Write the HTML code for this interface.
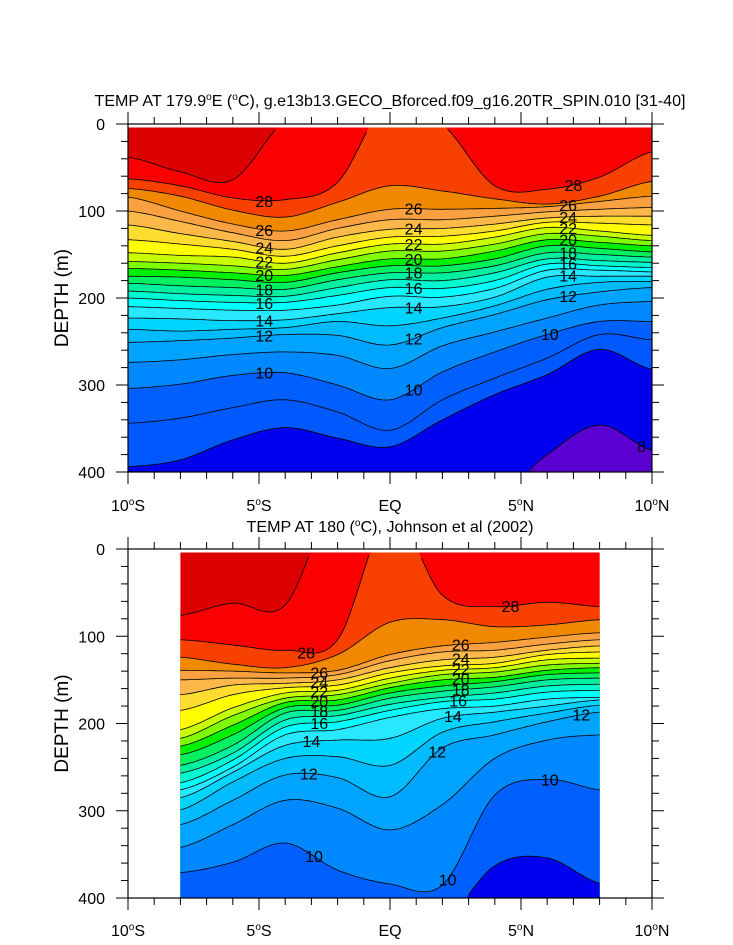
<!DOCTYPE html>
<html><head><meta charset="utf-8"><style>
html,body{margin:0;padding:0;background:#fff;}
svg{display:block;font-family:"Liberation Sans",sans-serif;}
</style></head><body>
<svg id="chart" width="733" height="945" viewBox="0 0 733 945" xmlns="http://www.w3.org/2000/svg">
<g id="top"></g>
<g id="bot"></g>
</svg>
<script>
// ---- data: isotherm depths (m) at grid latitudes (negative = isotherm outcrops above surface) ----
const topLats = [-10,-8,-6,-4,-2,0,2,4,6,8,10];
const topLevels = [29,28,27,26,25,24,23,22,21,20,19,18,17,16,15,14,13,12,11,10,9.5,9,8];
const topDepths = {
 "29":[38,55,64,-5,-30,-30,-30,-30,-30,-30,-30],
 "28":[63,71,85,87,67,-30,0,71,75,61,32],
 "27":[74,83,99,107,90,71,77,86,92,83,66],
 "26":[84,100,115,123,110,98,98,97,95,89,83],
 "25":[100,112,125,134,120,110,110,106,101,98,96],
 "24":[116,126,135,144,130,121,120,115,108,106,106],
 "23":[133,138,144,152,140,130,129,123,113,114,116],
 "22":[148,151,153,160,148,138,138,130,119,123,128],
 "21":[158,160,163,167,156,146,146,138,126,129,134],
 "20":[166,168,171,174,164,155,155,146,133,136,140],
 "19":[175,176,179,182,171,163,163,155,140,143,147],
 "18":[183,186,188,190,179,171,171,163,148,150,153],
 "17":[192,195,197,198,188,179,180,171,155,157,159],
 "16":[200,203,205,205,197,188,189,180,161,163,165],
 "15":[210,212,214,214,208,198,199,189,168,168,170],
 "14":[223,224,226,225,218,211,210,199,176,175,175],
 "13":[236,238,236,234,227,232,223,209,190,182,181],
 "12":[251,249,246,242,243,254,234,219,202,193,188],
 "11":[274,271,265,262,266,281,255,239,223,208,204],
 "10":[304,299,289,286,300,317,285,262,242,227,227],
 "9.5":[344,338,326,317,331,352,317,292,269,242,248],
 "9":[394,386,363,349,361,371,340,311,288,259,282],
 "8":[430,430,430,430,430,430,430,430,380,346,375]
};
const topLabels = [[28,-4.8],[26,-4.8],[24,-4.8],[22,-4.8],[20,-4.8],[18,-4.8],[16,-4.8],[14,-4.8],[12,-4.8],[10,-4.8],
 [26,0.9],[24,0.9],[22,0.9],[20,0.9],[18,0.9],[16,0.9],[14,0.9],[12,0.9],[10,0.9],
 [28,7],[26,6.8],[24,6.8],[22,6.8],[20,6.8],[18,6.8],[16,6.8],[14,6.8],[12,6.8],[10,6.1],[8,9.6]];

const botLats = [-8,-6,-4,-2,0,2,4,6,8];
const botLevels = [29,28,27,26,25,24,23,22,21,20,19,18,17,16,15,14,13,12,11,10,9];
const botDepths = {
 "29":[76,62,64,-60,-30,-30,-30,-30,-30],
 "28":[104,110,116,104,-40,53,66,61,66],
 "27":[124,132,136,121,84,81,89,87,81],
 "26":[139,140,142,139,121,111,107,101,96],
 "25":[150,148,148,144,128,118,116,109,104],
 "24":[167,156,154,150,136,127,124,116,111],
 "23":[185,167,159,156,142,134,131,121,118],
 "22":[207,182,165,162,148,139,136,127,125],
 "21":[217,191,171,167,154,144,141,133,131],
 "20":[226,202,176,173,159,150,147,139,136],
 "19":[236,213,182,179,165,157,152,144,142],
 "18":[248,225,188,185,171,163,158,150,148],
 "17":[257,234,196,191,178,170,165,157,155],
 "16":[268,242,204,198,185,175,172,164,162],
 "15":[276,250,213,207,193,183,180,172,170],
 "14":[285,256,225,219,217,194,187,180,173],
 "13":[299,267,240,238,248,210,198,188,179],
 "12":[316,288,259,262,284,228,213,198,187],
 "11":[342,316,288,297,322,293,240,219,213],
 "10":[371,359,337,368,384,385,282,264,276],
 "9":[440,440,440,440,440,430,363,354,383]
};
const botLabels = [[28,-3.2],[26,-2.7],[24,-2.7],[22,-2.7],[20,-2.7],[18,-2.7],[16,-2.7],[14,-3],[12,-3.1],[10,-2.9],
 [28,4.6],[26,2.7],[24,2.7],[22,2.7],[20,2.7],[18,2.7],[16,2.6],[14,2.4],[12,1.8],[10,2.2],[12,7.3],[10,6.1]];

const xTickLabels = ["10°S","5°S","EQ","5°N","10°N"];
const yTickValues = [0,100,200,300,400];

// ---- styles ----
const warmest = "#dc0000";
const belowColor = {"29":"#fa0000","28":"#f84000","27":"#f08800","26":"#f9a040","25":"#fcb848","24":"#fedc30","23":"#ffff00",
 "22":"#c8ff00","21":"#80ff00","20":"#00f000","19":"#00f060","18":"#00f0a0","17":"#00f8d0","16":"#00ffff","15":"#28e8ff",
 "14":"#00d4ff","13":"#00bcff","12":"#00a4ff","11":"#0088ff","10":"#0060ff","9.5":"#0058ff","9":"#0000ee","8":"#5a00d0"};
const NS = "http://www.w3.org/2000/svg";
function mk(tag, attrs, parent){const e=document.createElementNS(NS,tag);for(const k in attrs)e.setAttribute(k,attrs[k]);parent.appendChild(e);return e;}

function spline(lats, vals, lat){
  const step = lats[1]-lats[0];
  let f=(lat-lats[0])/step; let i=Math.floor(f); if(i<0)i=0; if(i>lats.length-2)i=lats.length-2;
  const u=f-i;
  const p0=vals[Math.max(i-1,0)],p1=vals[i],p2=vals[i+1],p3=vals[Math.min(i+2,vals.length-1)];
  return 0.5*((2*p1)+(-p0+p2)*u+(2*p0-5*p1+4*p2-p3)*u*u+(-p0+3*p1-3*p2+p3)*u*u*u);
}

function writeParts(t, parts, supDy, supSize){
  let raised=false;
  parts.forEach(part=>{
    if(part==='o'){const s=mk('tspan',{dy:-supDy,'font-size':supSize},t);s.textContent='o';raised=true;}
    else {const s=mk('tspan',raised?{dy:supDy}:{},t);s.textContent=part;raised=false;}
  });
}

function drawPanel(g, cfg){
  const {x0,x1,y0,y1,lats,levels,depths,labels,title,titleLen,titleY,tickY} = cfg;
  const xOf = lat => x0 + (lat+10)/20*(x1-x0);
  const yOf = d => y0 + d/400*(y1-y0);
  const la=lats[0], lb=lats[lats.length-1], dTop=4;
  const fills = mk('g',{},g);
  
  
  const bg = mk('rect',{x:xOf(la),y:yOf(dTop),width:xOf(lb)-xOf(la),height:yOf(400)-yOf(dTop),fill:warmest},fills);
  
  
  const lines = [];
  levels.forEach(L=>{
    const vals = depths[String(L)];
    let pts=[], segs=[], cur=[];
    for(let lat=la; lat<=lb+1e-6; lat+=0.1){
      const raw = spline(lats, vals, lat);
      const d = Math.min(400, Math.max(dTop, raw));
      const p = xOf(lat).toFixed(1)+","+yOf(d).toFixed(1);
      pts.push(p);
      if(raw>dTop+0.3 && raw<399.7){cur.push(p);} else {if(cur.length>1)segs.push(cur);cur=[];}
    }
    if(cur.length>1)segs.push(cur);
    const poly = mk('polygon',{points:pts.join(" ")+" "+xOf(lb)+","+yOf(400)+" "+xOf(la)+","+yOf(400),fill:belowColor[String(L)]},fills);
    
    
    lines.push([L,segs]);
  });
  const lg = mk('g',{fill:'none',stroke:'#000','stroke-width':0.8},g);
  
  
  lines.forEach(([L,segs])=>segs.forEach(s=>{
    const pl = mk('polyline',{points:s.join(" ")},lg);
    
    
  }));
  labels.forEach(([L,lat])=>{
    const d = spline(lats, depths[String(L)], lat);
    const t = mk('text',{x:xOf(lat),y:yOf(Math.min(396,Math.max(8,d)))+6,'text-anchor':'middle','font-size':16,fill:'#000'},g);
    t.textContent = String(L);
    
    
  });
  const fr = mk('rect',{x:x0,y:y0,width:x1-x0,height:y1-y0,fill:'none',stroke:'#000','stroke-width':1.2},g);
  
  
  const tk = mk('g',{stroke:'#000','stroke-width':1},g);
  
  
  for(let lat=-10; lat<=10; lat++){
    const major = lat%5===0, len = major?12:7, x=xOf(lat);
    mk('line',{x1:x,y1:y0,x2:x,y2:y0-len},tk);
    mk('line',{x1:x,y1:y1,x2:x,y2:y1+len},tk);
  }
  for(let d=0; d<=400; d+=20){
    const major = d%100===0, len = major?12:7, y=yOf(d);
    mk('line',{x1:x0,y1:y,x2:x0-len,y2:y},tk);
    mk('line',{x1:x1,y1:y,x2:x1+len,y2:y},tk);
  }
  xTickLabels.forEach((s,i)=>{
    const x = xOf(-10+5*i);
    const t = mk('text',{x:x,y:tickY,'text-anchor':'middle','font-size':16},g);
    const m = s.match(/^(\d+)°(.)$/);
    if(m) writeParts(t,[m[1],'o',m[2]],6,10); else t.textContent=s;
    
    
  });
  yTickValues.forEach(v=>{
    const t = mk('text',{x:105,y:yOf(v)+6,'text-anchor':'end','font-size':16},g);
    t.textContent=String(v);
    
    
  });
  const yl = mk('text',{x:68,y:(y0+y1)/2,'text-anchor':'middle','font-size':19,transform:`rotate(-90 68 ${(y0+y1)/2})`},g);
  yl.textContent='DEPTH (m)';
  
  
  const tt = mk('text',{x:390,y:titleY,'text-anchor':'middle','font-size':16,textLength:titleLen,lengthAdjust:'spacingAndGlyphs'},g);
  writeParts(tt,title,6,10);
  
  
}

drawPanel(document.getElementById('top'),{x0:128,x1:652,y0:124,y1:472,lats:topLats,levels:topLevels,depths:topDepths,labels:topLabels,
  title:["TEMP AT 179.9","o","E (","o","C), g.e13b13.GECO_Bforced.f09_g16.20TR_SPIN.010 [31-40]"],titleLen:591,titleY:106,tickY:511});
drawPanel(document.getElementById('bot'),{x0:128,x1:652,y0:549,y1:898,lats:botLats,levels:botLevels,depths:botDepths,labels:botLabels,
  title:["TEMP AT 180 (","o","C), Johnson et al (2002)"],titleLen:287,titleY:532,tickY:936});
</script>
</body></html>
